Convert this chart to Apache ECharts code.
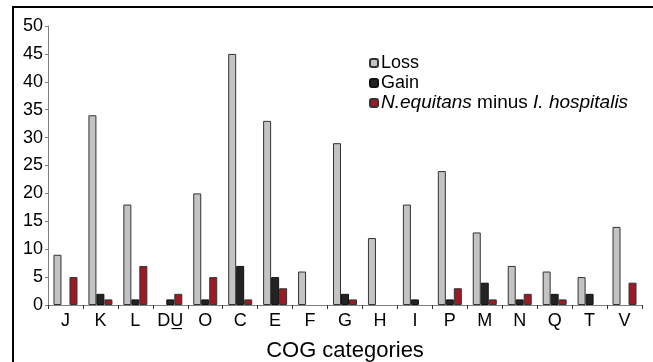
<!DOCTYPE html>
<html>
<head>
<meta charset="utf-8">
<script src="https://cdn.jsdelivr.net/npm/echarts@6/dist/echarts.min.js"></script>
<style>
  html, body { margin: 0; padding: 0; background: #fff; }
  #chart { width: 653px; height: 362px; }
</style>
</head>
<body>
<div id="chart"></div>
<script>
const categories = ['J', 'K', 'L', 'DU\u0332', 'O', 'C', 'E', 'F', 'G', 'H', 'I', 'P', 'M', 'N', 'Q', 'T', 'V']
const lossValues = [9, 34, 18, 0, 20, 45, 33, 6, 29, 12, 18, 24, 13, 7, 6, 5, 14]
const gainValues = [0, 2, 1, 1, 1, 7, 5, 0, 2, 0, 1, 1, 4, 1, 2, 2, 0]
const diffValues = [5, 1, 7, 2, 5, 1, 3, 0, 1, 0, 0, 3, 1, 2, 1, 0, 4]
const yTicks = [0, 50, 5]

const FONT = 'Liberation Sans'

var dom = document.getElementById('chart')
var myChart = echarts.init(dom, null, { renderer: 'canvas' })

function barSeries(name, data, color, border) {
    // zero counts draw no bar at all (no flat border line)
    return {
        name: name,
        type: 'bar',
        data: data.map(function (v) { return v === 0 ? '-' : v }),
        barWidth: 8,
        barGap: '0%',
        itemStyle: {
            color: color,
            borderColor: border,
            borderWidth: 1
        }
    }
}

var option = {
    animation: false,
    textStyle: { fontFamily: FONT },
    graphic: [
        {
            type: 'polyline',
            shape: { points: [[13, 362], [13, 7], [653, 7]] },
            style: { stroke: '#000', lineWidth: 2, fill: null }
        }
    ],
    grid: { left: 48, right: 11, top: 26, bottom: 57, outerBoundsMode: 'none', containLabel: false },
    legend: {
        orient: 'vertical',
        left: 364,
        top: 48,
        itemWidth: 8,
        itemHeight: 8,
        itemGap: 0,
        textStyle: {
            fontSize: 18,
            lineHeight: 20,
            color: '#000',
            fontFamily: FONT,
            padding: [0, 0, 0, -2],
            rich: {
                i: { fontStyle: 'italic', fontSize: 19, lineHeight: 20, fontFamily: FONT, color: '#000' },
                r: { fontSize: 19, lineHeight: 20, fontFamily: FONT, color: '#000' }
            }
        },
        formatter: function (name) {
            if (name === 'diff') {
                return '{i|N.equitans}{r| minus }{i|I. hospitalis}'
            }
            return name
        },
        data: ['Loss', 'Gain', 'diff']
    },
    xAxis: {
        type: 'category',
        data: categories,
        name: 'COG categories',
        nameLocation: 'middle',
        nameGap: 35,
        nameTextStyle: { fontSize: 22, color: '#000', fontFamily: FONT },
        axisLine: { lineStyle: { color: '#808080', width: 1 } },
        axisTick: { show: true, length: 4, lineStyle: { color: '#333' } },
        axisLabel: { fontSize: 18, color: '#000', margin: 7, interval: 0 }
    },
    yAxis: {
        type: 'value',
        min: yTicks[0],
        max: yTicks[1],
        interval: yTicks[2],
        splitLine: { show: false },
        axisLine: { show: true, lineStyle: { color: '#808080', width: 1 } },
        axisTick: { show: true, length: 3, lineStyle: { color: '#808080' } },
        axisLabel: { fontSize: 18, color: '#000', margin: 5 }
    },
    series: [
        barSeries('Loss', lossValues, '#c3c3c3', '#333'),
        barSeries('Gain', gainValues, '#232323', '#111'),
        barSeries('diff', diffValues, '#9b1a24', '#333')
    ]
}

option && myChart.setOption(option)
window.addEventListener('resize', myChart.resize)
</script>
</body>
</html>
